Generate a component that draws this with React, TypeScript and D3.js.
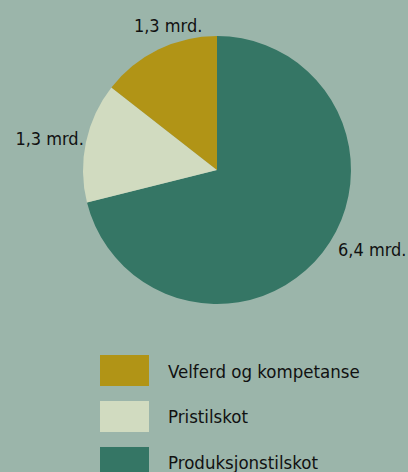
import React from "react";
import * as d3 from "d3";

const categories = ["Produksjonstilskot", "Pristilskot", "Velferd og kompetanse"];
const values = [6.4, 1.3, 1.3];
const valueLabels = ["6,4 mrd.", "1,3 mrd.", "1,3 mrd."];
const legendOrder = ["Velferd og kompetanse", "Pristilskot", "Produksjonstilskot"];

const colors: Record<string, string> = {
  Produksjonstilskot: "#357665",
  Pristilskot: "#d1dbc0",
  "Velferd og kompetanse": "#b19416",
};

const W = 408;
const H = 472;
const cx = 217;
const cy = 170;
const R = 134;
const font = "'DejaVu Sans Condensed', 'DejaVu Sans', sans-serif";

// label nudges so text sits where the original puts it
const labelNudge = [
  [26, -15],
  [-7, 9],
  [23, 9],
];

const App = () => {
  const pie = d3
    .pie<number>()
    .sort(null)
    .value((d) => d);
  const arcs = pie(values);
  const arc = d3.arc<d3.PieArcDatum<number>>().innerRadius(0).outerRadius(R);
  const labelArc = d3
    .arc<d3.PieArcDatum<number>>()
    .innerRadius(R + 30)
    .outerRadius(R + 30);

  const legendY = d3.scaleBand().domain(legendOrder).range([355, 478]).paddingInner(0.326);

  return (
    <svg
      width={W}
      height={H}
      style={{ position: "absolute", left: 0, top: 0, background: "#9bb5aa" }}
    >
      <rect width={W} height={H} fill="#9bb5aa" />
      <g transform={`translate(${cx},${cy})`}>
        {arcs.map((a, i) => (
          <path key={categories[i]} d={arc(a) || ""} fill={colors[categories[i]]} />
        ))}
        {arcs.map((a, i) => {
          const [x, y] = labelArc.centroid(a);
          return (
            <text
              key={"l" + i}
              x={x + labelNudge[i][0]}
              y={y + labelNudge[i][1]}
              textAnchor="middle"
              fontFamily={font}
              fontSize={18}
              fill="#111"
            >
              {valueLabels[i]}
            </text>
          );
        })}
      </g>
      {legendOrder.map((c) => (
        <g key={c} transform={`translate(100,${legendY(c)})`}>
          <rect width={49} height={legendY.bandwidth()} fill={colors[c]} />
          <text
            x={68}
            y={legendY.bandwidth() / 2 + 7}
            fontFamily={font}
            fontSize={18.5}
            fill="#111"
          >
            {c}
          </text>
        </g>
      ))}
    </svg>
  );
};

export default App;
